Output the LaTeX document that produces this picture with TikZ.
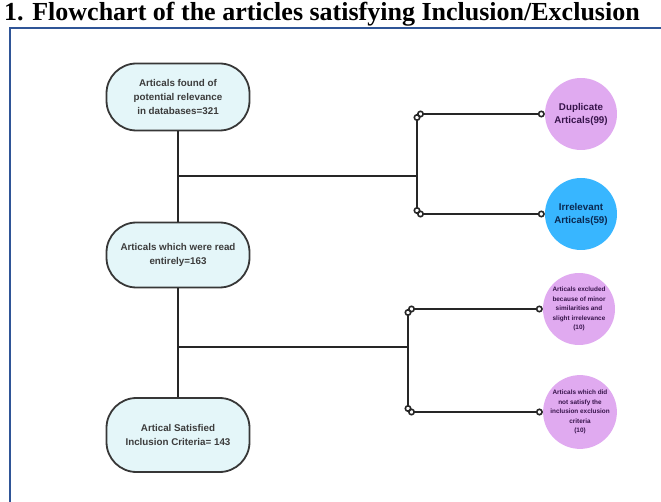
\documentclass[tikz,border=0pt]{standalone}
\usepackage{xcolor}
\usepackage{fontspec}
\setmainfont{Liberation Sans}
\newfontfamily\titlefont{Liberation Serif}
\usepackage{tikz}
\usetikzlibrary{arrows.meta, positioning}
\definecolor{frameblue}{RGB}{47, 85, 151}
\definecolor{stagefill}{RGB}{228, 246, 249}
\definecolor{stageedge}{RGB}{55, 55, 55}
\definecolor{lilac}{RGB}{224, 170, 240}
\definecolor{skyblue}{RGB}{56, 182, 255}
\definecolor{inktext}{RGB}{60, 60, 60}
\definecolor{plumtext}{RGB}{55, 20, 75}
\definecolor{navytext}{RGB}{10, 40, 80}

\begin{document}
\begin{tikzpicture}[x=1pt, y=-1pt,
    stage/.style={draw=stageedge, line width=1.8pt, rounded corners=30pt,
                  fill=stagefill, minimum width=143pt, minimum height=67pt,
                  align=center, text=inktext,
                  font=\bfseries\fontsize{9.8}{14}\selectfont},
    outcome/.style={circle, minimum size=72pt, inner sep=0pt, align=center,
                    font=\bfseries\fontsize{9.8}{13}\selectfont},
    tiny/.style={font=\bfseries\fontsize{6.4}{9.5}\selectfont},
    link/.style={line width=1.6pt, draw=black!85},
    joint/.style={link, {Circle[open, length=7pt, width=7pt]}-{Circle[open, length=7pt, width=7pt]}},
    endjoint/.style={link, -{Circle[open, length=7pt, width=7pt]}}
]
    \clip (0,0) rectangle (661,502);

    % Title and frame
    \node[anchor=base west, inner sep=0pt,
          font=\titlefont\bfseries\fontsize{26}{26}\selectfont] (title) at (4,20.5)
        {1. Flowchart of the articles satisfying Inclusion/Exclusion};
    \draw[frameblue, line width=2pt] (10,520) |- (690,28);

    % Main stages
    \node[stage] (found) at (178,97)
        {Articals found of\\potential relevance\\in databases=321};
    \node[stage, minimum height=65pt] (read) at (178,255)
        {Articals which were read\\entirely=163};
    \node[stage, minimum height=74pt] (satisfied) at (178,435)
        {Artical Satisfied\\Inclusion Criteria= 143};

    % Excluded articles
    \node[outcome, fill=lilac, text=plumtext] (dup) at (581,114)
        {Duplicate\\Articals(99)};
    \node[outcome, fill=skyblue, text=navytext] (irr) at (581,214)
        {Irrelevant\\Articals(59)};
    \node[outcome, fill=lilac, text=plumtext, tiny] (minor) at (579,309)
        {Articals excluded\\because of minor\\similarities and\\slight irrelevance\\(10)};
    \node[outcome, fill=lilac, text=plumtext, tiny] (unsat) at (580,412)
        {Articals which did\\not satisfy the\\inclusion exclusion\\criteria\\(10)};

    % Branch points
    \coordinate (fork1) at (178,176);
    \coordinate (bus1) at (417,176);
    \coordinate (bus1top) at (417,114);
    \coordinate (bus1bot) at (417,214);
    \coordinate (fork2) at (178,347);
    \coordinate (bus2) at (408,347);
    \coordinate (bus2top) at (408,309);
    \coordinate (bus2bot) at (408,412);

    % Connectors
    \draw[link] (found) -- (read);
    \draw[link] (read) -- (satisfied);
    \draw[link] (fork1) -- (bus1);
    \draw[endjoint] (bus1) -- (bus1top);
    \draw[endjoint] (bus1) -- (bus1bot);
    \draw[joint] (bus1top) -- (dup.west);
    \draw[joint] (bus1bot) -- (irr.west);
    \draw[link] (fork2) -- (bus2);
    \draw[endjoint] (bus2) -- (bus2top);
    \draw[endjoint] (bus2) -- (bus2bot);
    \draw[joint] (bus2top) -- (minor.west);
    \draw[joint] (bus2bot) -- (unsat.west);
\end{tikzpicture}
\end{document}
